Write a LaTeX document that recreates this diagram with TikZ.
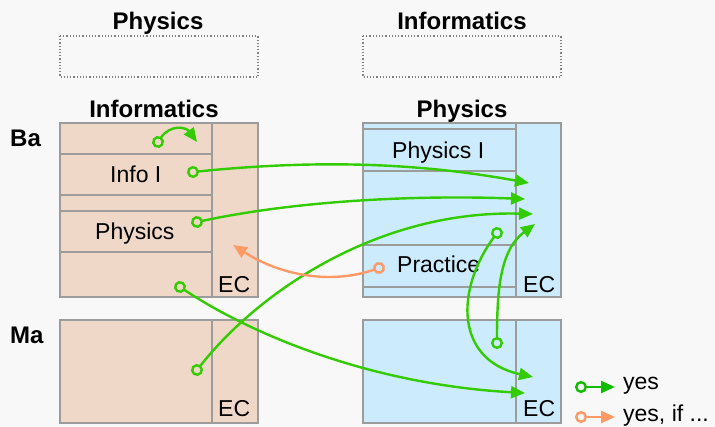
\documentclass[tikz,border=0pt]{standalone}
\usepackage{fontspec}
\setmainfont{Liberation Sans}
\usetikzlibrary{arrows.meta}
\definecolor{bgcol}{HTML}{F8F8F8}
\definecolor{infofill}{HTML}{F0D8C8}
\definecolor{physfill}{HTML}{CCEBFC}
\definecolor{boxline}{HTML}{9C9C9C}
\definecolor{yesgreen}{HTML}{33CC00}
\definecolor{keygreen}{HTML}{11BB00}
\definecolor{ifcol}{HTML}{FF9A66}

\begin{document}
\begin{tikzpicture}[x=1pt, y=-1pt, every node/.style={font=\fontsize{23}{27}\selectfont, inner sep=0pt, anchor=base west},
	box/.style={draw=boxline, line width=1.2pt},
	plan/.style={draw=gray, line width=1.2pt, dotted},
	title/.style={font=\fontsize{24}{28}\selectfont\bfseries, anchor=base},
	yesarrow/.style={draw=yesgreen, line width=2.4pt, shorten <=-6pt, {Circle[open,length=12pt]}-{Triangle[length=14pt,width=12pt]}},
	ifarrow/.style={yesarrow, draw=ifcol}]
	\fill[bgcol] (0,0) rectangle (715,427);
	\useasboundingbox (0,0) rectangle (715,427);
	% titles and planned boxes
	\node[title] (tphys) at (158,30) {Physics};
	\node[title] (tinfo) at (462,30) {Informatics};
	\draw[plan] (60,36) rectangle (258,77);
	\draw[plan] (363,36) rectangle (561,77);
	\node[title] (hinfo) at (154,118) {Informatics};
	\node[title] (hphys) at (462,118) {Physics};
	\node[title, anchor=base west] (ba) at (10,147) {Ba};
	\node[title, anchor=base west] (ma) at (10,344) {Ma};
	% Informatics side
	\draw[box, fill=infofill] (60,123) rectangle (258,297);
	\draw[box] (212,123) -- (212,297);
	\draw[box] (60,154) -- (212,154);
	\draw[box] (60,195) -- (212,195);
	\draw[box] (60,211) -- (212,211);
	\draw[box] (60,252) -- (212,252);
	\draw[box, fill=infofill] (60,320) rectangle (258,423);
	\draw[box] (212,320) -- (212,423);
	\node (info1) at (110,183) {Info I};
	\node (physl) at (95,240) {Physics};
	\node (ecbal) at (218,293) {EC};
	\node (ecmal) at (218,417) {EC};
	% Physics side
	\draw[box, fill=physfill] (363,123) rectangle (561,297);
	\draw[box] (516,123) -- (516,297);
	\draw[box] (363,129) -- (516,129);
	\draw[box] (363,171) -- (516,171);
	\draw[box] (363,245) -- (516,245);
	\draw[box] (363,287) -- (516,287);
	\draw[box, fill=physfill] (363,320) rectangle (561,423);
	\draw[box] (516,320) -- (516,423);
	\node (phys1) at (392,159) {Physics I};
	\node (pract) at (397,273) {Practice};
	\node (ecbar) at (523,293) {EC};
	\node (ecmar) at (523,417) {EC};
	% arrow ends
	\coordinate (ltop) at (158,142);
	\coordinate (ltopx) at (197,142);
	\coordinate (linfo) at (193,172);
	\coordinate (lphys) at (197,222);
	\coordinate (lbot) at (180,287);
	\coordinate (lma) at (197,370);
	\coordinate (ecin1) at (529,183);
	\coordinate (ecin2) at (525,199);
	\coordinate (ecin3) at (533,214);
	\coordinate (ecin4) at (535,224);
	\coordinate (rba) at (497,233);
	\coordinate (rma) at (497,343);
	\coordinate (ecma1) at (533,377);
	\coordinate (ecma2) at (525,393);
	\coordinate (rpract) at (379,268);
	\coordinate (lecba) at (233,245);
	\draw[yesarrow] (ltop) .. controls (170,124) and (186,127) .. (ltopx);
	\draw[yesarrow] (linfo) .. controls (330,158) and (430,165) .. (ecin1);
	\draw[yesarrow] (lphys) .. controls (300,200) and (420,195) .. (ecin2);
	\draw[yesarrow] (lma) .. controls (260,290) and (380,210) .. (ecin3);
	\draw[yesarrow] (lbot) .. controls (260,340) and (380,385) .. (ecma2);
	\draw[yesarrow] (rba) .. controls (455,290) and (455,360) .. (ecma1);
	\draw[yesarrow] (rma) .. controls (497,290) and (500,250) .. (ecin4);
	\draw[ifarrow] (rpract) .. controls (330,285) and (280,275) .. (lecba);
	% legend
	\coordinate (lgy1) at (581,387);
	\coordinate (lgy2) at (615,387);
	\coordinate (lgi1) at (581,417);
	\coordinate (lgi2) at (615,417);
	\draw[yesarrow, draw=keygreen] (lgy1) -- (lgy2);
	\draw[ifarrow] (lgi1) -- (lgi2);
	\node (lyes) at (623,390) {yes};
	\node (lif) at (623,422) {yes, if ...};
\end{tikzpicture}
\end{document}
